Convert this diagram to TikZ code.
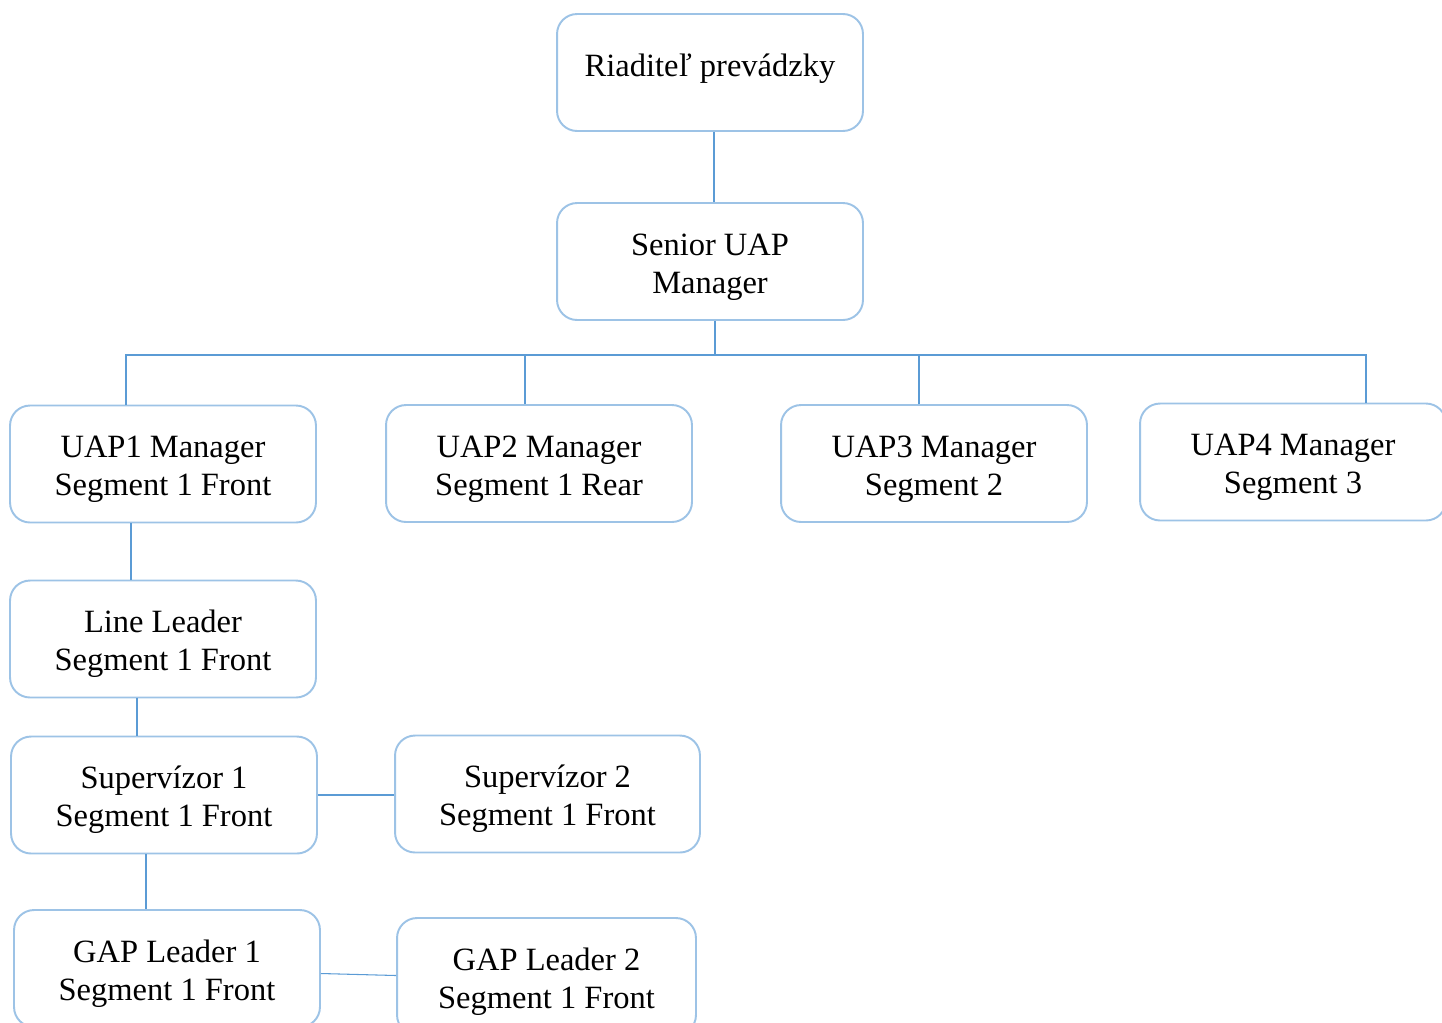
\documentclass[tikz,border=0pt]{standalone}
\usepackage{fontspec}
\setmainfont{Liberation Serif}
\usepackage{tikz}
\usetikzlibrary{calc, positioning}
\definecolor{boxline}{HTML}{9DC3E6}
\definecolor{wireblue}{HTML}{5B9BD5}
\begin{document}
\begin{tikzpicture}[x=0.02cm, y=-0.02cm,
    every node/.style={font=\fontsize{18.5}{21.5}\selectfont},
    box/.style={draw=boxline, line width=1.1pt, rounded corners=0.4cm, fill=white,
        minimum width=6.12cm, text height=1.8cm, text depth=0.54cm, align=center, inner sep=0pt},
    wire/.style={draw=wireblue, line width=0.6pt}]
        \useasboundingbox (0,0) rectangle (1442,1022);
        \clip (0,0) rectangle (1442,1022);

        \node[box, text height=1.24cm, text depth=1.1cm] (dir) at (710,72.5) {Riaditeľ prevádzky};
        \node[box] (senior) at (710,261.5) {Senior UAP\\Manager};

        \node[box] (uap1) at (163,464) {UAP1 Manager\\Segment 1 Front};
        \node[box] (uap2) at (539,463.5) {UAP2 Manager\\Segment 1 Rear};
        \node[box] (uap3) at (934,463.5) {UAP3 Manager\\Segment 2};
        \node[box] (uap4) at (1293,462) {UAP4 Manager\\Segment 3};

        \node[box] (lead) at (163,639) {Line Leader\\Segment 1 Front};
        \node[box] (sup1) at (164,795) {Supervízor 1\\Segment 1 Front};
        \node[box, minimum width=6.1cm] (sup2) at (547.5,794) {Supervízor 2\\Segment 1 Front};
        \node[box] (gap1) at (167,968.5) {GAP Leader 1\\Segment 1 Front};
        \node[box, minimum width=5.98cm] (gap2) at (546.5,976.5) {GAP Leader 2\\Segment 1 Front};

        % top of the tree
        \coordinate (bus) at (715,355);
        \draw[wire] (dir.south) ++(4,0) coordinate (d1) -- (d1 |- senior.north);
        \draw[wire] (senior.south) ++(5,0) coordinate (s1) -- (bus);
        \draw[wire] (uap1.north) ++(-37,0) coordinate (u1) |- (bus) -| ($(uap4.north)+(73,0)$);
        \draw[wire] (uap2.north) ++(-14,0) coordinate (u2) -- (u2 |- bus);
        \draw[wire] (uap3.north) ++(-15,0) coordinate (u3) -- (u3 |- bus);

        % left branch
        \draw[wire] (uap1.south) ++(-32,0) coordinate (l1) -- (l1 |- lead.north);
        \draw[wire] (lead.south) ++(-26,0) coordinate (l2) -- (l2 |- sup1.north);
        \draw[wire] (sup1.south) ++(-18,0) coordinate (l3) -- (l3 |- gap1.north);
        \draw[wire] (sup1.east) -- (sup1.east -| sup2.west);
        \draw[wire] ($(gap1.east)+(0,5)$) -- ($(gap2.west)+(0,-1)$);
\end{tikzpicture}
\end{document}
